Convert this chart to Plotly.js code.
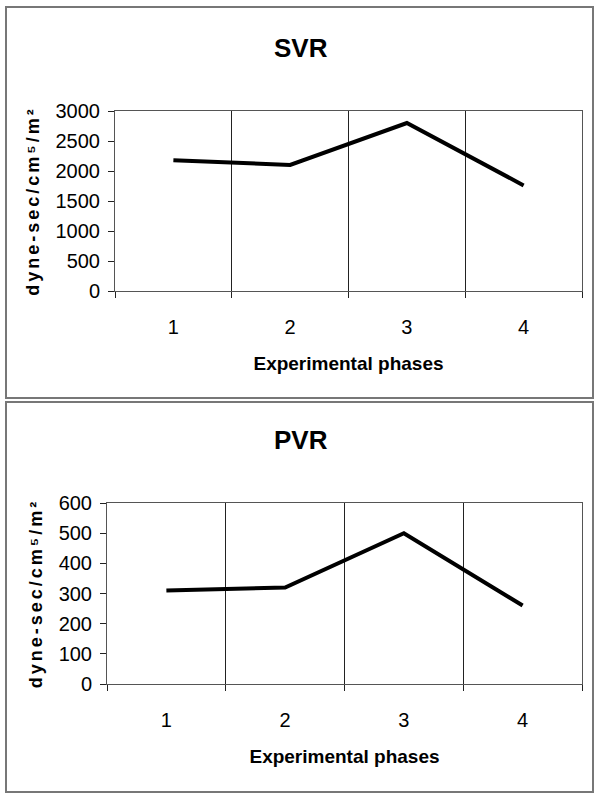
<!DOCTYPE html>
<html>
<head>
<meta charset="utf-8">
<script src="https://cdn.plot.ly/plotly-3.0.1.min.js"></script>
<style>
body { margin: 0; padding: 0; background: #fff; }
#chart { width: 600px; height: 800px; }
.g-ytitle text, .g-y2title text { letter-spacing: 3px; }
</style>
</head>
<body>
<div id="chart"></div>
<script>
// Data
const phases = ["1", "2", "3", "4"];
const svrValues = [2180, 2100, 2800, 1760];
const pvrValues = [310, 320, 500, 260];
const svrTitle = "SVR";
const pvrTitle = "PVR";
const xAxisTitle = "Experimental phases";
const yAxisTitle = "dyne-sec/cm\u2075/m\u00B2";
const svrTicks = [0, 500, 1000, 1500, 2000, 2500, 3000];
const pvrTicks = [0, 100, 200, 300, 400, 500, 600];

const narrow = "'Liberation Sans Narrow', 'Arial Narrow', 'Liberation Sans', Arial, sans-serif";
const regular = "'Liberation Sans', Arial, 'DejaVu Sans', sans-serif";

const traces = [
  { x: phases, y: svrValues, type: 'scatter', mode: 'lines', xaxis: 'x', yaxis: 'y',
    line: { color: '#000', width: 4 }, hoverinfo: 'skip' },
  { x: phases, y: pvrValues, type: 'scatter', mode: 'lines', xaxis: 'x2', yaxis: 'y2',
    line: { color: '#000', width: 4 }, hoverinfo: 'skip' }
];

function xax(domain, anchor) {
  return {
    domain: domain, anchor: anchor, type: 'category', range: [-0.5, 3.5],
    tickson: 'boundaries', showgrid: true, gridcolor: '#222', gridwidth: 1,
    showline: true, linecolor: '#555', linewidth: 1, mirror: true,
    ticks: 'outside', ticklen: 6, tickcolor: '#222', tickwidth: 1,
    ticklabelstandoff: 18,
    tickfont: { family: narrow, size: 20, color: '#000' },
    title: { text: xAxisTitle, font: { family: narrow, size: 19, color: '#000', weight: 'bold' }, standoff: 19 },
    zeroline: false, fixedrange: true, automargin: false
  };
}
function yax(domain, anchor, ticks) {
  return {
    domain: domain, anchor: anchor, range: [ticks[0], ticks[ticks.length - 1]],
    tickvals: ticks, ticktext: ticks.map(String),
    showgrid: false, zeroline: false,
    showline: true, linecolor: '#555', linewidth: 1, mirror: true,
    ticks: 'outside', ticklen: 6, tickcolor: '#222', tickwidth: 1,
    ticklabelstandoff: 4,
    tickfont: { family: narrow, size: 20, color: '#000' },
    title: { text: yAxisTitle, font: { family: regular, size: 18, color: '#000', weight: 'bold' }, standoff: 11 },
    fixedrange: true, automargin: false
  };
}

const layout = {
  width: 600, height: 800,
  margin: { l: 0, r: 0, t: 0, b: 0 },
  paper_bgcolor: '#fff', plot_bgcolor: '#fff',
  showlegend: false,
  xaxis: xax([115 / 600, 582 / 600], 'y'),
  yaxis: yax([1 - 291 / 800, 1 - 111 / 800], 'x', svrTicks),
  xaxis2: xax([107 / 600, 582 / 600], 'y2'),
  yaxis2: yax([1 - 684 / 800, 1 - 503 / 800], 'x2', pvrTicks),
  annotations: [
    { text: svrTitle, xref: 'paper', yref: 'paper', x: 301 / 600, y: 1 - 48 / 800,
      xanchor: 'center', yanchor: 'middle', showarrow: false,
      font: { family: narrow, size: 26, color: '#000', weight: 'bold' } },
    { text: pvrTitle, xref: 'paper', yref: 'paper', x: 301 / 600, y: 1 - 440 / 800,
      xanchor: 'center', yanchor: 'middle', showarrow: false,
      font: { family: narrow, size: 26, color: '#000', weight: 'bold' } }
  ],
  shapes: [
    { type: 'rect', xref: 'paper', yref: 'paper', x0: 6 / 600, x1: 593 / 600, y0: 1 - 398 / 800, y1: 1 - 7 / 800,
      line: { color: '#777', width: 2 }, fillcolor: 'rgba(0,0,0,0)' },
    { type: 'rect', xref: 'paper', yref: 'paper', x0: 6 / 600, x1: 593 / 600, y0: 1 - 792 / 800, y1: 1 - 402 / 800,
      line: { color: '#777', width: 2 }, fillcolor: 'rgba(0,0,0,0)' }
  ]
};

Plotly.newPlot('chart', traces, layout, { staticPlot: true, displayModeBar: false });
</script>
</body>
</html>
